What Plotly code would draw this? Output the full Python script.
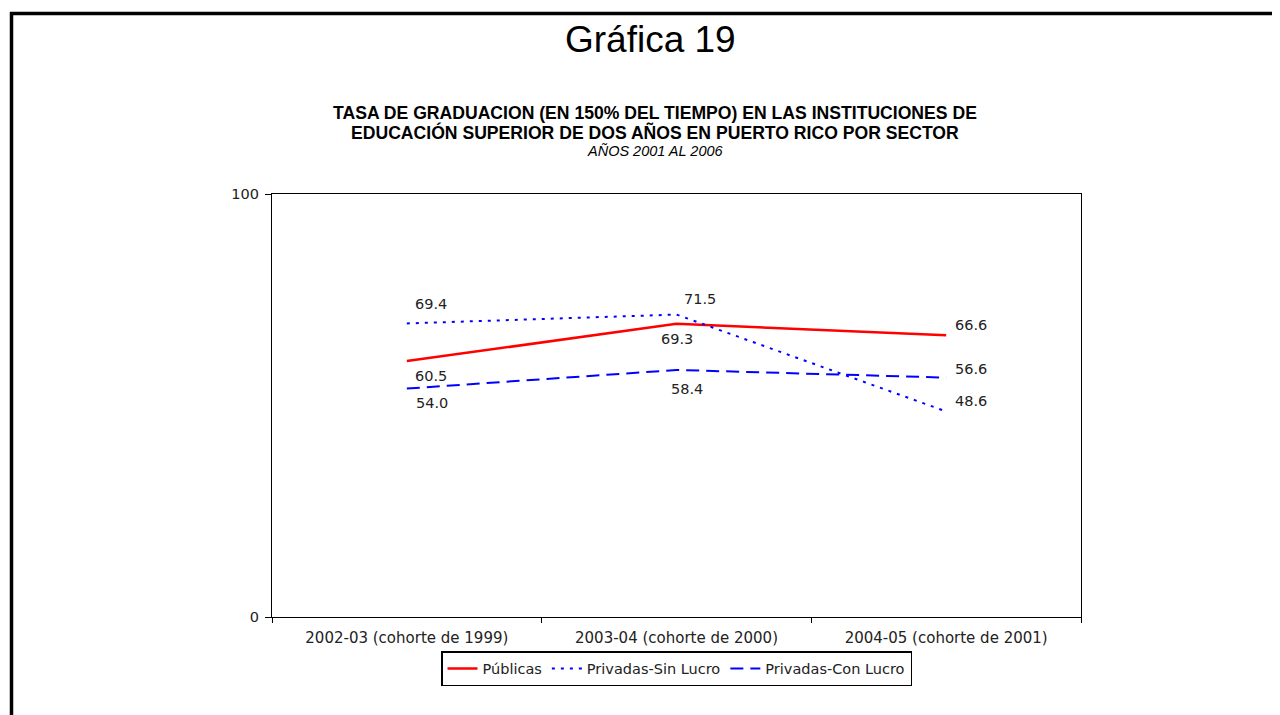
import plotly.graph_objects as go

W, H = 1280, 715
OFF = 8  # page body margin of the browser
ML, MR, MT, MB = 272 - OFF, 199 + OFF, 194 - OFF, 98 + OFF
PW = W - ML - MR
PH = H - MT - MB

categorias = ["2002-03 (cohorte de 1999)", "2003-04 (cohorte de 2000)", "2004-05 (cohorte de 2001)"]
publicas = [60.5, 69.3, 66.6]
sin_lucro = [69.4, 71.5, 48.6]
con_lucro = [54.0, 58.4, 56.6]


def px_x(x):
    return (x - OFF - ML) / PW


def px_y(y):
    return (H - MB - (y - OFF)) / PH


fig = go.Figure()

fig.add_trace(go.Scatter(x=categorias, y=publicas, name="Públicas", mode="lines",
                         line=dict(color="#FF0000", width=2.5)))
fig.add_trace(go.Scatter(x=categorias, y=sin_lucro, name="Privadas-Sin Lucro", mode="lines",
                         line=dict(color="#0000FF", width=2, dash="3px,6px")))
fig.add_trace(go.Scatter(x=categorias, y=con_lucro, name="Privadas-Con Lucro", mode="lines",
                         line=dict(color="#0000FF", width=2, dash="13px,7px")))

# data labels: (series, offsets per point)
label_font = dict(family="DejaVu Sans, Verdana", size=14.5, color="#222222")
offsets = [
    (publicas, [(24, -15), (0, -15), (7, 10)]),
    (sin_lucro, [(24, 19), (23, 16), (7, 10)]),
    (con_lucro, [(25, -14), (10, -19), (7, 9)]),
]
for serie, offs in offsets:
    for i, (dx, dy) in enumerate(offs):
        fig.add_annotation(x=categorias[i], y=serie[i], text=f"{serie[i]:.1f}",
                           showarrow=False, xshift=dx, yshift=dy,
                           xanchor="left" if i == 2 else "center",
                           font=label_font)

# titles
titulo_font = dict(family="Liberation Sans, Arial", color="black")
fig.add_annotation(x=px_x(650), y=px_y(40), xref="paper", yref="paper",
                   xanchor="center", yanchor="middle",
                   text="Gráfica 19", showarrow=False, font=dict(titulo_font, size=37))
fig.add_annotation(x=px_x(655), y=px_y(113), xref="paper", yref="paper",
                   xanchor="center", yanchor="middle",
                   text="<b>TASA DE GRADUACION (EN 150% DEL TIEMPO) EN LAS INSTITUCIONES DE</b>",
                   showarrow=False, font=dict(titulo_font, size=17.6))
fig.add_annotation(x=px_x(655), y=px_y(133), xref="paper", yref="paper",
                   xanchor="center", yanchor="middle",
                   text="<b>EDUCACIÓN SUPERIOR DE DOS AÑOS EN PUERTO RICO POR SECTOR</b>",
                   showarrow=False, font=dict(titulo_font, size=17.6))
fig.add_annotation(x=px_x(655), y=px_y(151), xref="paper", yref="paper",
                   xanchor="center", yanchor="middle",
                   text="<i>AÑOS 2001 AL 2006</i>",
                   showarrow=False, font=dict(titulo_font, size=14.5))

# page frame (top and left)
fig.add_shape(type="line", xref="paper", yref="paper", x0=px_x(10), x1=px_x(1290),
              y0=px_y(13.5), y1=px_y(13.5), line=dict(color="black", width=3.5))
fig.add_shape(type="line", xref="paper", yref="paper", x0=px_x(11.5), x1=px_x(11.5),
              y0=px_y(12), y1=px_y(730), line=dict(color="black", width=3.5))

fig.update_layout(
    width=W, height=H,
    margin=dict(l=ML, r=MR, t=MT, b=MB),
    paper_bgcolor="white", plot_bgcolor="white",
    showlegend=True,
    legend=dict(orientation="h", x=0.5, xanchor="center", y=px_y(651), yanchor="top",
                bordercolor="black", borderwidth=1.5, bgcolor="white",
                font=dict(family="DejaVu Sans, Verdana", size=14.5, color="#222222"),
                itemwidth=30, tracegroupgap=0),
    xaxis=dict(type="category", range=[-0.5, 2.5], showgrid=False,
               showline=True, linecolor="black", linewidth=1.2, mirror=True,
               ticks="outside", ticklen=5, tickcolor="black", tickson="boundaries",
               ticklabelstandoff=7,
               tickfont=dict(family="DejaVu Sans, Verdana", size=15, color="#222222")),
    yaxis=dict(range=[0, 100], tickvals=[0, 100], showgrid=False, zeroline=False,
               showline=True, linecolor="black", linewidth=1.2, mirror=True,
               ticks="outside", ticklen=6, tickcolor="black", ticklabelstandoff=3,
               tickfont=dict(family="DejaVu Sans, Verdana", size=14.5, color="#222222")),
)

fig.write_html("out.html")
